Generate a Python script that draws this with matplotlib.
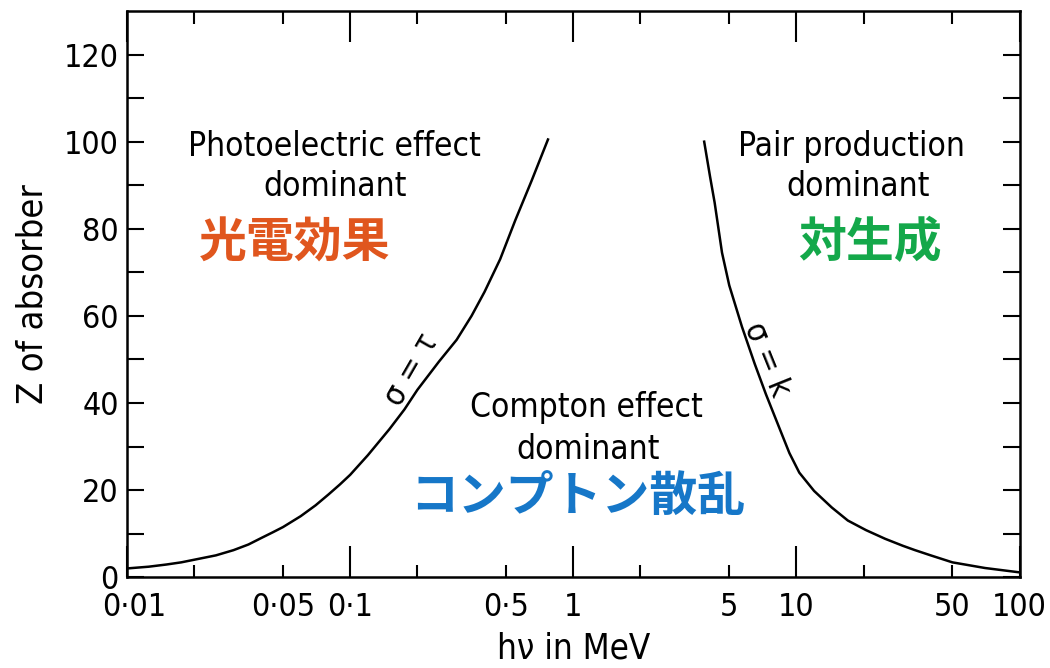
import matplotlib.pyplot as plt
import matplotlib.transforms as mtransforms
import numpy as np
from matplotlib.ticker import FixedLocator, FixedFormatter

# curve sigma = tau (photoelectric / Compton boundary)
tau_energy = [0.01, 0.0125, 0.015, 0.0175, 0.02, 0.025, 0.03, 0.035, 0.04, 0.045, 0.05, 0.06, 0.07,
              0.08, 0.09, 0.1, 0.12, 0.15, 0.175, 0.2, 0.25, 0.3, 0.35, 0.4, 0.47, 0.55, 0.65, 0.77]
tau_z = [2, 2.4, 2.9, 3.4, 4, 5, 6.2, 7.5, 9, 10.3, 11.5, 14, 16.5,
         19, 21.3, 23.5, 28, 34, 38.5, 43, 49.5, 54.5, 60, 65.5, 73, 82, 91, 100.5]

# curve sigma = kappa (Compton / pair production boundary)
kappa_energy = [3.86, 4.1, 4.3, 4.64, 5.0, 5.7, 6.5, 7.3, 8.5, 9.3, 10.3, 12, 14.4, 17, 20.5,
                25, 30, 34, 40, 50, 70, 100]
kappa_z = [100, 92, 86, 74.5, 67, 57.5, 49, 42, 33.5, 28.5, 24, 19.8, 16, 13, 10.8,
           8.8, 7.2, 6.2, 5, 3.4, 2.1, 1.1]

major_x = [0.01, 0.1, 1, 10, 100]
major_x_labels = ['0·01', '0·1', '1', '10', '100']
minor_x = [0.02, 0.05, 0.2, 0.5, 2, 5, 20, 50]
minor_x_labels = ['', '0·05', '', '0·5', '', '5', '', '50']

cjk_font = ['Noto Sans CJK JP', 'DejaVu Sans']
plt.rcParams['font.family'] = ['DejaVu Sans']
plt.rcParams['font.stretch'] = 'condensed'

fig = plt.figure(figsize=(10.5, 6.68), dpi=100)
ax = fig.add_axes([0.121, 0.136, 0.85, 0.8475])

ax.plot(tau_energy, tau_z, color='black', linewidth=1.8)
ax.plot(kappa_energy, kappa_z, color='black', linewidth=1.8)

ax.set_xscale('log')
ax.set_xlim(0.01, 100)
ax.set_ylim(0, 130)

ax.xaxis.set_major_locator(FixedLocator(major_x))
ax.xaxis.set_major_formatter(FixedFormatter(major_x_labels))
ax.xaxis.set_minor_locator(FixedLocator(minor_x))
ax.xaxis.set_minor_formatter(FixedFormatter(minor_x_labels))
ax.set_yticks(np.arange(0, 121, 20))
ax.set_yticks(np.arange(10, 121, 20), minor=True)

ax.tick_params(axis='x', which='major', direction='in', length=22, width=1.5,
               top=True, labelsize=23, pad=11)
ax.tick_params(axis='x', which='minor', direction='in', length=9, width=1.5,
               top=True, labelsize=23, pad=11)
ax.tick_params(axis='y', which='both', direction='in', length=12, width=1.5,
               right=True, labelsize=23, pad=6)

# nudge the first x label a little to the right, like the original
first = ax.get_xticklabels()[0]
first.set_transform(first.get_transform() +
                    mtransforms.ScaledTranslation(7 / 100, 0, fig.dpi_scale_trans))

for s in ax.spines.values():
    s.set_linewidth(1.8)

ax.set_xlabel('hν in MeV', fontsize=25, labelpad=6)
ax.set_ylabel('Z of absorber', fontsize=26, labelpad=10)

txt = dict(fontsize=24, ha='center', va='center')
ax.text(0.0853, 98.9, 'Photoelectric effect', **txt)
ax.text(0.0853, 89.7, 'dominant', **txt)
ax.text(17.7, 98.9, 'Pair production', **txt)
ax.text(19.0, 89.7, 'dominant', **txt)
ax.text(1.143, 38.9, 'Compton effect', **txt)
ax.text(1.16, 29.4, 'dominant', **txt)

ax.text(0.19, 47.5, 'σ = τ', fontsize=23, rotation=60, ha='center', va='center')
ax.text(7.3, 50, 'σ = k', fontsize=23, rotation=-68, ha='center', va='center')

jp = dict(fontsize=34.5, fontweight='bold', ha='center', va='center', family=cjk_font)
ax.text(0.0565, 76.8, '光電効果', color='#E0561E', **jp)
ax.text(21.3, 76.8, '対生成', color='#14A84A', **jp)
ax.text(1.05, 18.4, 'コンプトン散乱', color='#1677C8', **jp)

plt.savefig('out.png', dpi=100)
